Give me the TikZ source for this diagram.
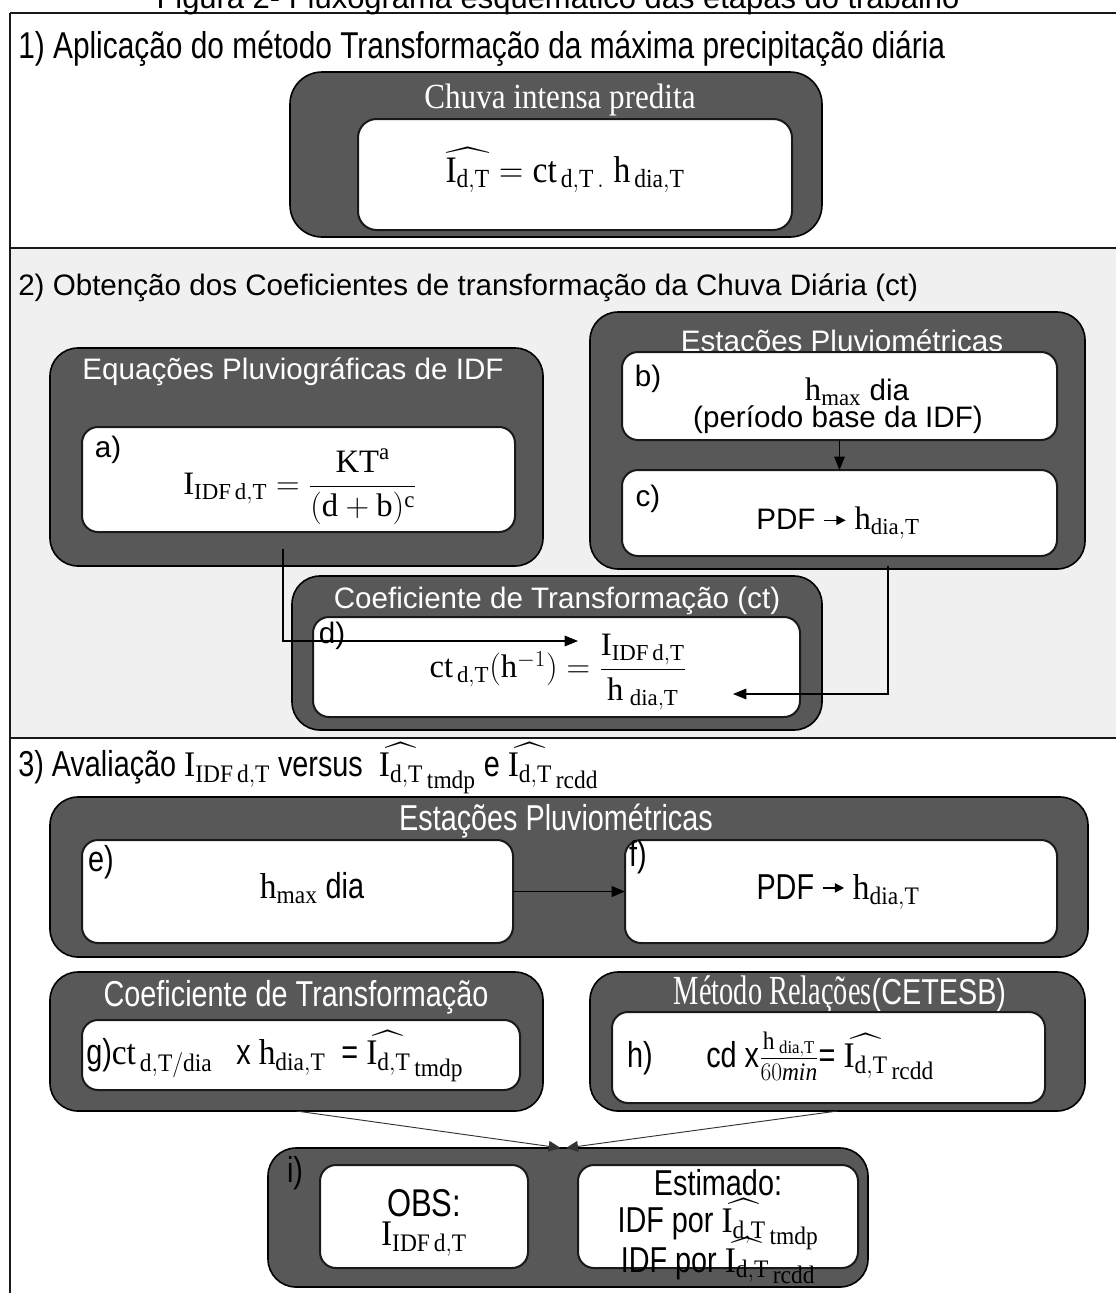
\documentclass[tikz,border=0pt]{standalone}
\usepackage{fix-cm}
\usepackage{amsmath}
\usepackage{fontspec}
\setmainfont{Liberation Serif}
\setsansfont{Liberation Sans}
\newfontfamily\narrow[FakeStretch=0.8]{Liberation Sans}
\newfontfamily\serifnarrow[FakeStretch=0.88]{Liberation Serif}
\usetikzlibrary{arrows.meta}
\definecolor{dk}{RGB}{88,88,88}
\definecolor{bgtwo}{RGB}{240,240,240}
\definecolor{ln}{RGB}{25,25,25}
\newcommand{\fA}{\fontsize{22.2}{26}\selectfont}
\newcommand{\fB}{\fontsize{27}{32}\selectfont}
\newcommand{\nm}[1]{\scalebox{0.93}[1]{#1}}
\newcommand{\dT}{\mathrm{d{,}T}}
\newcommand{\diaT}{\mathrm{dia{,}T}}
\newcommand{\Ihat}{\widehat{\mathrm{I}_{\dT}}}
\newcommand{\Iidf}{\mathrm{I}_{\mathrm{IDF}\,\dT}}
\newcommand{\smallarrow}{\tikz[baseline=-0.6ex]\draw[line width=1pt,-{Triangle[length=7pt,width=7pt]}] (0pt,0pt)--(16pt,0pt);}
\newcommand{\bx}[6]{\node[#1, minimum width={(#4-#2)*0.75pt}, minimum height={(#5-#3)*0.75pt}] (#6) at ({(#2+#4)/2},{(#3+#5)/2}) {};}
\begin{document}
\begin{tikzpicture}[x=0.75pt,y=-0.75pt,
  dark/.style={draw=black, line width=1.2pt, fill=dk, rounded corners=21pt, inner sep=0pt, outer sep=0pt},
  wbox/.style={draw=ln, line width=1.5pt, fill=white, rounded corners=12pt, inner sep=0pt, outer sep=0pt},
  ttl/.style={text=white, inner sep=0pt},
  txt/.style={inner sep=0pt, align=center},
  arr/.style={draw=black, line width=0.8pt, -{Triangle[length=10pt,width=8pt]}},
  arrthin/.style={draw=black!80, line width=0.7pt, -{Triangle[length=9pt,width=8pt]}}
]
\useasboundingbox (0,0) rectangle (1116,1293);
% frame and sections
\fill[bgtwo] (10,248) rectangle (1130,738);
\draw[line width=1.8pt, ln] (10,13) -- (1130,13);
\draw[line width=1pt, ln] (10,13) -- (10,1300);
\draw[line width=1.6pt, ln] (10,248) -- (1130,248);
\draw[line width=2pt, ln] (10,738) -- (1130,738);
\node[anchor=base, inner sep=0pt, font=\sffamily\fontsize{23.2}{27}\selectfont] (fig) at (558,8) {Figura 2- Fluxograma esquemático das etapas do trabalho};

% ---------- section 1
\node[anchor=west, inner sep=0pt, font=\narrow\fontsize{28}{33}\selectfont] (h1) at (18,49) {1) Aplicação do método Transformação da máxima precipitação diária};
\bx{dark, rounded corners=24pt}{290}{72}{822}{237}{s1D}
\node[ttl, font=\serifnarrow\fontsize{26.5}{30}\selectfont] (s1T) at (560,100) {Chuva intensa predita};
\bx{wbox, rounded corners=14pt}{358}{119}{792}{230}{s1W}
\node[txt, font=\fontsize{28}{33}\selectfont] (s1F) at (565,170) {\scalebox{0.9}[1]{$\Ihat = \mathrm{ct}_{\,\mathrm{d{,}T\,.}}\;\mathrm{h}_{\,\diaT}$}};

% ---------- section 2
\node[anchor=west, inner sep=0pt, font=\sffamily\fA] (h2) at (18,288) {2) Obtenção dos Coeficientes de transformação da Chuva Diária (ct)};
% IDF box
\bx{dark}{50}{348}{543}{566}{aD}
\node[ttl, font=\sffamily\fA] (aT) at (293,372) {Equações Pluviográficas de IDF};
\bx{wbox}{82}{427}{515}{532}{aW}
\node[txt, font=\sffamily\fA] (aL) at (108,450) {a)};
\node[txt, font=\fontsize{24.5}{29}\selectfont] (aF) at (300,487) {$\Iidf = \dfrac{\mathrm{KT}^{\mathrm{a}}}{(\mathrm{d}+\mathrm{b})^{\mathrm{c}}}$};
% Estacoes box
\bx{dark}{590}{312}{1085}{569}{bcD}
\node[ttl, font=\sffamily\fA] (bcT) at (842,344) {Estações Pluviométricas};
\bx{wbox}{622}{352}{1057}{440}{bW}
\node[txt, font=\sffamily\fA] (bL) at (648,379) {b)};
\node[txt, font=\sffamily\fA] (bF1) at (857,392) {{\fontsize{24.5}{29}\selectfont$\mathrm{h}_{\mathrm{max}}$} dia};
\node[txt, font=\sffamily\fA] (bF2) at (838,420) {(período base da IDF)};
\bx{wbox}{622}{470}{1057}{556}{cW}
\node[txt, font=\sffamily\fA] (cL) at (648,499) {c)};
\node[txt, font=\sffamily\fA] (cF) at (838,523) {PDF \smallarrow\ {\fontsize{24.5}{29}\selectfont$\mathrm{h}_{\diaT}$}};
\draw[arr] (bW.south) -- (cW.north);
% Coeficiente box
\bx{dark}{292}{576}{822}{730}{dD}
\node[ttl, font=\sffamily\fA] (dT) at (557,601) {Coeficiente de Transformação (ct)};
\bx{wbox}{313}{617}{800}{717}{dW}
\node[txt, font=\sffamily\fA] (dL) at (332,636) {d)};
\node[txt, font=\fontsize{24.5}{29}\selectfont] (dF) at (558,672) {$\mathrm{ct}_{\,\dT}(\mathrm{h}^{-1}) = \dfrac{\Iidf}{\mathrm{h}_{\;\diaT}}$};
% connectors
\coordinate (a1) at (283,549);
\coordinate (d1) at (578,641);
\coordinate (c1) at (888,566);
\coordinate (d2) at (733,694);
\draw[arr] (a1) |- (d1);
\draw[arr] (c1) |- (d2);

% ---------- section 3
\node[anchor=west, inner sep=0pt, font=\narrow\fB] (h3) at (18,768) {3) Avaliação \nm{$\Iidf$} versus \ \nm{$\Ihat_{\,\mathrm{tmdp}}$} e \nm{$\Ihat_{\,\mathrm{rcdd}}$}};
\bx{dark}{50}{797}{1088}{957}{efD}
\node[ttl, font=\narrow\fB] (efT) at (556,821) {Estações Pluviométricas};
\bx{wbox}{82}{840}{513}{943}{eW}
\node[txt, font=\narrow\fB] (eL) at (101,862) {e)};
\node[txt, font=\narrow\fB] (eF) at (312,888) {\nm{$\mathrm{h}_{\mathrm{max}}$} dia};
\bx{wbox}{625}{840}{1057}{943}{fW}
\node[txt, font=\narrow\fB] (fL) at (638,857) {f)};
\node[txt, font=\narrow\fB] (fF) at (838,892) {PDF \smallarrow\ \nm{$\mathrm{h}_{\diaT}$}};
\draw[arr, line width=1.4pt] (eW.east) -- (fW.west);
% g box
\bx{dark}{50}{972}{543}{1111}{gD}
\node[ttl, font=\narrow\fB] (gT) at (296,997) {Coeficiente de Transformação};
\bx{wbox}{82}{1020}{520}{1090}{gW}
\node[anchor=west, inner sep=0pt, font=\narrow\fB] (gF) at (86,1056) {g)\nm{$\mathrm{ct}_{\,\mathrm{d{,}T/dia}}$} \ \ x \nm{$\mathrm{h}_{\diaT}$} \ = \nm{$\Ihat_{\,\mathrm{tmdp}}$}};
% h box
\bx{dark}{590}{972}{1085}{1111}{hD}
\node[ttl, anchor=base] (hT) at (840,1004) {{\serifnarrow\fontsize{31}{36}\selectfont\scalebox{0.78}[1]{Método Relações}}{\narrow\fB(CETESB)}};
\bx{wbox}{612}{1012}{1045}{1103}{hW}
\node[txt, font=\narrow\fB] (hL) at (640,1058) {h)};
\node[anchor=west, inner sep=0pt, font=\narrow\fB] (hF) at (706,1056) {cd x\nm{$\frac{\mathrm{h}_{\;\diaT}}{60\mathit{min}}$}= \nm{$\Ihat_{\,\mathrm{rcdd}}$}};
% i box
\bx{dark}{268}{1148}{868}{1287}{iD}
\node[txt, font=\narrow\fB, text=black] (iL) at (295,1173) {i)};
\bx{wbox}{320}{1165}{528}{1268}{obsW}
\node[txt, font=\narrow\fontsize{29}{34}\selectfont] (obs1) at (424,1203) {OBS:};
\node[txt, font=\fB] (obs2) at (424,1239) {\nm{$\Iidf$}};
\bx{wbox}{578}{1165}{858}{1268}{estW}
\node[txt, font=\narrow\fB] (est1) at (718,1183) {Estimado:};
\node[txt, font=\narrow\fB] (est2) at (718,1224) {IDF por \nm{$\Ihat_{\,\mathrm{tmdp}}$}};
\node[txt, font=\narrow\fB] (est3) at (718,1261) {IDF por \nm{$\Ihat_{\,\mathrm{rcdd}}$}};
\draw[arrthin] (gD.south) -- ([xshift=-5.5pt]iD.north);
\draw[arrthin] (hD.south) -- ([xshift=-1.5pt]iD.north);
\end{tikzpicture}
\end{document}
